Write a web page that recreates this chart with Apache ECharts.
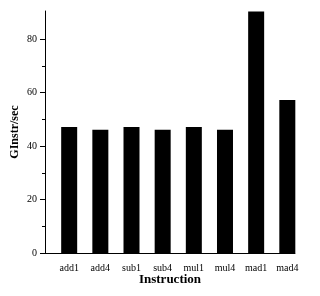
<!DOCTYPE html>
<html><head><meta charset="utf-8">
<script src="https://cdn.jsdelivr.net/npm/echarts@6/dist/echarts.min.js"></script>
<style>html,body{margin:0;padding:0;background:#fff}#c{width:320px;height:296px}</style>
</head><body><div id="c"></div>
<script>
const categories = ['add1','add4','sub1','sub4','mul1','mul4','mad1','mad4'];
const values = [47.2, 46.1, 47.2, 46.1, 47.2, 46.1, 90.4, 57.3];
const yTicks = [0, 20, 40, 60, 80];
const yMinorTicks = [10, 30, 50, 70];
const yMax = 90.6;

const font = 'Liberation Serif';
const chart = echarts.init(document.getElementById('c'), null, {renderer: 'canvas'});
chart.setOption({
  animation: false,
  backgroundColor: '#fff',
  grid: [
    {left: 45, right: 25, top: 11, bottom: 43, containLabel: false},
    {left: 53.6, right: 17.1, top: 11, bottom: 43, containLabel: false}
  ],
  xAxis: [
    {gridIndex: 0, type: 'value', min: 0, max: 1,
     axisLine: {show: true, lineStyle: {color: '#000', width: 1}},
     axisTick: {show: false}, axisLabel: {show: false}, splitLine: {show: false},
     name: 'Instruction', nameLocation: 'middle', nameGap: 20, nameMoveOverlap: false,
     nameTextStyle: {fontFamily: font, fontWeight: 'bold', fontSize: 13, color: '#000'}},
    {gridIndex: 1, type: 'category', data: categories,
     axisLine: {show: false}, axisTick: {show: false}, splitLine: {show: false},
     axisLabel: {fontFamily: font, fontSize: 10, color: '#000', margin: 10, interval: 0}}
  ],
  yAxis: [
    {gridIndex: 0, type: 'value', min: 0, max: yMax,
     axisLine: {show: true, lineStyle: {color: '#000', width: 1}},
     axisTick: {show: true, inside: false, length: 5, customValues: yTicks, lineStyle: {color: '#000'}},
     axisLabel: {customValues: yTicks, fontFamily: font, fontSize: 10, color: '#000', margin: 8},
     splitLine: {show: false},
     name: 'GInstr/sec', nameLocation: 'middle', nameGap: 24, nameRotate: 90, nameMoveOverlap: false,
     nameTextStyle: {fontFamily: font, fontWeight: 'bold', fontSize: 12, color: '#000'}},
    {gridIndex: 0, type: 'value', min: 0, max: yMax, position: 'left',
     axisLine: {show: false},
     axisTick: {show: true, inside: false, length: 3, customValues: yMinorTicks, lineStyle: {color: '#000'}},
     axisLabel: {show: false}, splitLine: {show: false}},
    {gridIndex: 1, type: 'value', min: 0, max: yMax, show: false}
  ],
  series: [{
    type: 'bar', xAxisIndex: 1, yAxisIndex: 2, data: values,
    barWidth: 16, itemStyle: {color: '#000'}, clip: false
  }]
});
</script></body></html>
